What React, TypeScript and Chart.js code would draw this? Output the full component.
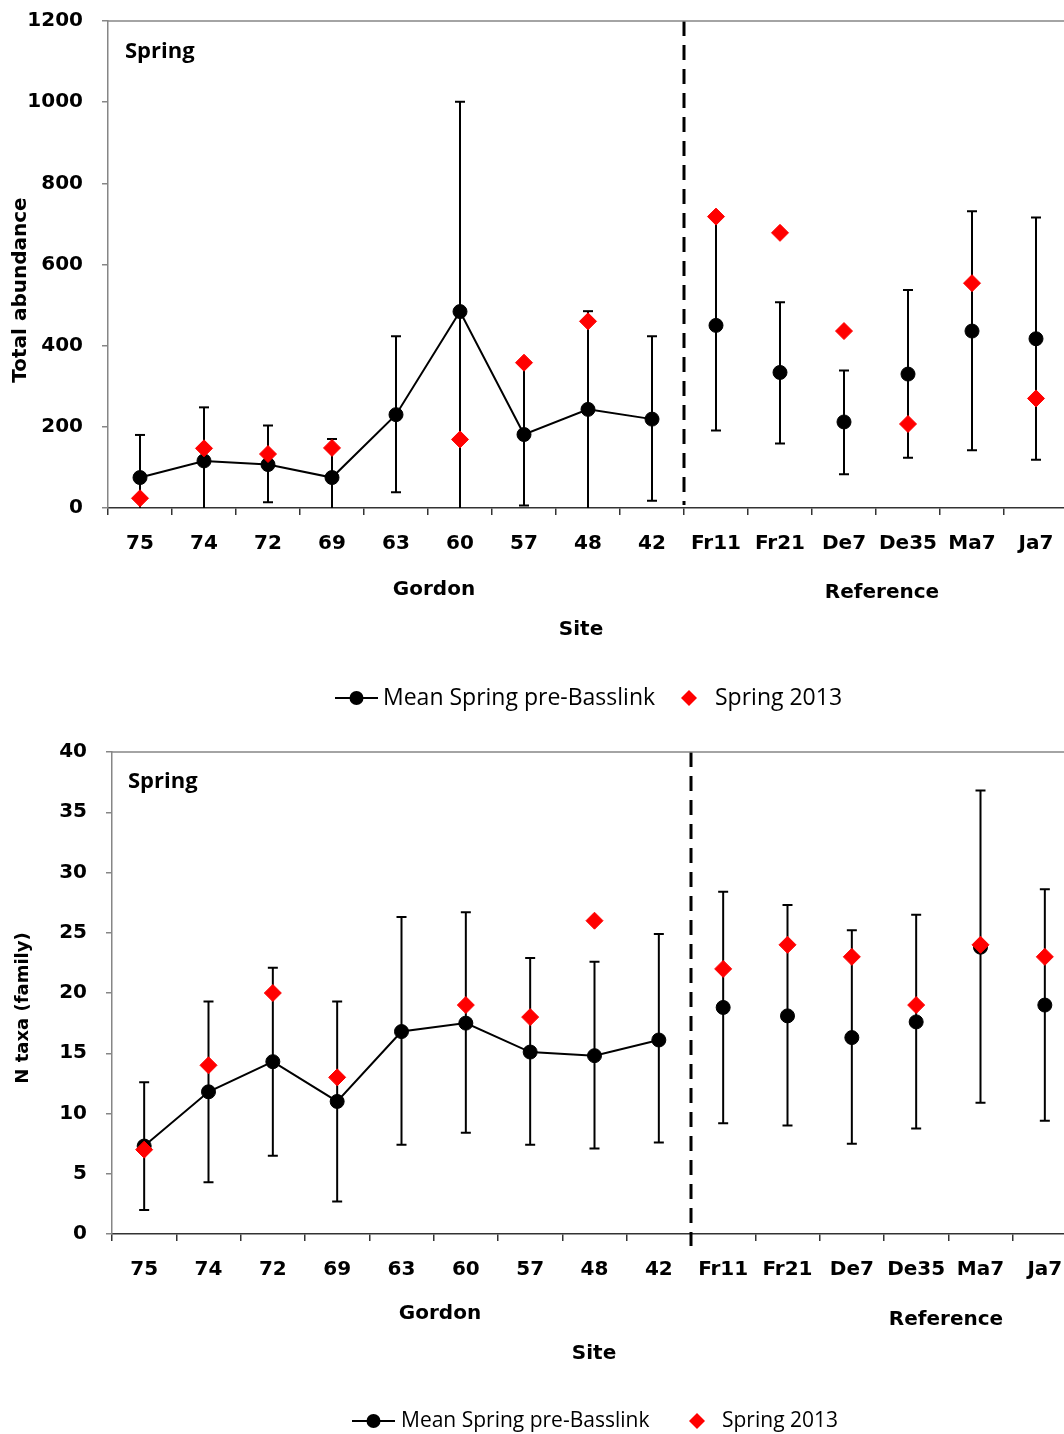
import React, { useEffect, useRef } from 'react';
import { Chart, registerables } from 'chart.js';

Chart.register(...registerables);

// ---------- data ----------
const sites = ['75', '74', '72', '69', '63', '60', '57', '48', '42', 'Fr11', 'Fr21', 'De7', 'De35', 'Ma7', 'Ja7'];

const abundanceMean = [75, 116, 107, 75, 230, 484, 181, 243, 219, 450, 334, 212, 330, 436, 417];
const abundanceLow = [0, 0, 14, 0, 39, 0, 6, 0, 18, 191, 159, 83, 124, 142, 119];
const abundanceHigh = [180, 248, 203, 170, 423, 1001, 357, 485, 423, 715, 507, 339, 537, 731, 716];
const abundance2013 = [24, 147, 133, 148, null, 169, 358, 460, null, 718, 678, 436, 207, 554, 270];

const taxaMean = [7.3, 11.8, 14.3, 11.0, 16.8, 17.5, 15.1, 14.8, 16.1, 18.8, 18.1, 16.3, 17.6, 23.8, 19.0];
const taxaLow = [2.0, 4.3, 6.5, 2.7, 7.4, 8.4, 7.4, 7.1, 7.6, 9.2, 9.0, 7.5, 8.75, 10.9, 9.4];
const taxaHigh = [12.6, 19.3, 22.1, 19.3, 26.3, 26.7, 22.9, 22.6, 24.9, 28.4, 27.3, 25.2, 26.5, 36.8, 28.6];
const taxa2013 = [7, 14, 20, 13, null, 19, 18, 26, null, 22, 24, 23, 19, 24, 23];

const gordonCount = 9;
const meanLabel = 'Mean Spring pre-Basslink';
const label2013 = 'Spring 2013';

type PanelSpec = {
  width: number;
  height: number;
  offsetY: number;
  area: { left: number; top: number; right: number; bottom: number };
  yMax: number;
  yStep: number;
  yTitle: string;
  yTitleFont: string;
  yTitlePos: [number, number];
  mean: number[];
  low: number[];
  high: number[];
  s2013: (number | null)[];
  springPos: [number, number];
  gordonPos: [number, number];
  referencePos: [number, number];
  sitePos: [number, number];
  legend: { lineX1: number; lineX2: number; textX: number; diamondX: number; text2X: number; y: number; font: string };
  dashExtend: number;
};

const FONT_BOLD = 'bold 20px "DejaVu Sans"';

function buildChart(canvas: HTMLCanvasElement, p: PanelSpec) {
  const overlay = {
    id: 'overlay',
    beforeDatasetsDraw(chart: any) {
      const ctx = chart.ctx;
      const x = chart.scales.x;
      const y = chart.scales.y;
      ctx.save();
      ctx.strokeStyle = '#000';
      ctx.lineWidth = 2;
      for (let i = 0; i < p.mean.length; i++) {
        const px = x.getPixelForValue(i);
        const yl = y.getPixelForValue(p.low[i]);
        const yh = y.getPixelForValue(p.high[i]);
        ctx.beginPath();
        ctx.moveTo(px, yl);
        ctx.lineTo(px, yh);
        ctx.stroke();
        ctx.beginPath();
        ctx.moveTo(px - 5, yh);
        ctx.lineTo(px + 5, yh);
        if (p.low[i] > 0) {
          ctx.moveTo(px - 5, yl);
          ctx.lineTo(px + 5, yl);
        }
        ctx.stroke();
      }
      // dashed separator
      const sx = (x.getPixelForValue(gordonCount - 1) + x.getPixelForValue(gordonCount)) / 2;
      ctx.setLineDash([15, 9]);
      ctx.lineWidth = 3;
      ctx.beginPath();
      ctx.moveTo(sx, chart.chartArea.top);
      ctx.lineTo(sx, chart.chartArea.bottom + p.dashExtend);
      ctx.stroke();
      ctx.restore();
    },
    afterDraw(chart: any) {
      const ctx = chart.ctx;
      const ca = chart.chartArea;
      ctx.save();
      // top border
      ctx.strokeStyle = '#868686';
      ctx.lineWidth = 1.5;
      ctx.beginPath();
      ctx.moveTo(ca.left, ca.top);
      ctx.lineTo(ca.right, ca.top);
      ctx.stroke();

      ctx.fillStyle = '#000';
      ctx.textBaseline = 'middle';
      // Spring
      ctx.font = 'bold 22px "Open Sans"';
      ctx.textAlign = 'left';
      ctx.fillText('Spring', p.springPos[0], p.springPos[1]);
      // group labels
      ctx.font = FONT_BOLD;
      ctx.textAlign = 'center';
      ctx.fillText('Gordon', p.gordonPos[0], p.gordonPos[1]);
      ctx.fillText('Reference', p.referencePos[0], p.referencePos[1]);
      ctx.fillText('Site', p.sitePos[0], p.sitePos[1]);
      // y title
      ctx.save();
      ctx.translate(p.yTitlePos[0], p.yTitlePos[1]);
      ctx.rotate(-Math.PI / 2);
      ctx.font = p.yTitleFont;
      ctx.fillText(p.yTitle, 0, 0);
      ctx.restore();

      // legend
      const L = p.legend;
      ctx.strokeStyle = '#000';
      ctx.lineWidth = 2;
      ctx.beginPath();
      ctx.moveTo(L.lineX1, L.y);
      ctx.lineTo(L.lineX2, L.y);
      ctx.stroke();
      ctx.beginPath();
      ctx.arc((L.lineX1 + L.lineX2) / 2, L.y, 7, 0, Math.PI * 2);
      ctx.fill();
      ctx.font = L.font;
      ctx.textAlign = 'left';
      ctx.fillText(meanLabel, L.textX, L.y);
      ctx.fillStyle = '#ff0000';
      ctx.beginPath();
      ctx.moveTo(L.diamondX - 8, L.y);
      ctx.lineTo(L.diamondX, L.y - 8);
      ctx.lineTo(L.diamondX + 8, L.y);
      ctx.lineTo(L.diamondX, L.y + 8);
      ctx.closePath();
      ctx.fill();
      ctx.fillStyle = '#000';
      ctx.fillText(label2013, L.text2X, L.y);
      ctx.restore();
    },
  };

  return new Chart(canvas, {
    type: 'line',
    data: {
      labels: sites,
      datasets: [
        {
          label: label2013,
          data: p.s2013 as any,
          showLine: false,
          pointStyle: 'rectRot',
          pointRadius: 8.5,
          pointBackgroundColor: '#ff0000',
          pointBorderColor: '#ff0000',
          pointBorderWidth: 1,
          order: 0,
        },
        {
          label: meanLabel,
          data: p.mean,
          borderColor: '#000',
          borderWidth: 2,
          pointStyle: 'circle',
          pointRadius: 7,
          pointBackgroundColor: '#000',
          pointBorderColor: '#000',
          pointBorderWidth: 1,
          segment: {
            borderColor: (c: any) => (c.p0DataIndex >= gordonCount - 1 ? 'rgba(0,0,0,0)' : '#000'),
          },
          order: 1,
        },
      ],
    },
    options: {
      responsive: false,
      animation: false,
      layout: {
        padding: { left: 0, top: p.area.top, right: p.width - p.area.right, bottom: 0 },
      },
      plugins: { legend: { display: false }, tooltip: { enabled: false } },
      scales: {
        x: {
          type: 'category',
          offset: true,
          grid: { display: true, offset: true, drawOnChartArea: false, drawTicks: true, tickLength: 7, color: '#333', lineWidth: 1.5 },
          border: { display: true, color: '#333', width: 1.5 },
          ticks: { color: '#000', font: { family: 'DejaVu Sans', size: 20, weight: 'bold' }, padding: 17, maxRotation: 0, autoSkip: false },
          afterFit: (s: any) => {
            s.height = p.height - p.area.bottom;
          },
        },
        y: {
          min: 0,
          max: p.yMax,
          grid: { display: true, drawOnChartArea: false, drawTicks: true, tickLength: 6, color: '#868686', lineWidth: 1.5 },
          border: { display: true, color: '#868686', width: 1.5 },
          ticks: {
            stepSize: p.yStep,
            color: '#000',
            font: { family: 'DejaVu Sans', size: 20, weight: 'bold' },
            padding: 19,
            callback: (v: any) => String(v),
          },
          afterFit: (s: any) => {
            s.width = p.area.left;
          },
        },
      },
    },
    plugins: [overlay],
  } as any);
}

const topSpec: PanelSpec = {
  width: 1100,
  height: 730,
  offsetY: -10,
  area: { left: 108, top: 30, right: 1068, bottom: 518 },
  yMax: 1200,
  yStep: 200,
  yTitle: 'Total abundance',
  yTitleFont: 'bold 20px "DejaVu Sans"',
  yTitlePos: [21, 300],
  mean: abundanceMean,
  low: abundanceLow,
  high: abundanceHigh,
  s2013: abundance2013,
  springPos: [125, 62],
  gordonPos: [434, 600],
  referencePos: [882, 603],
  sitePos: [581, 640],
  legend: { lineX1: 335, lineX2: 378, textX: 383, diamondX: 689, text2X: 715, y: 708, font: '23px "Open Sans"' },
  dashExtend: -3,
};

const bottomSpec: PanelSpec = {
  width: 1100,
  height: 714,
  offsetY: 0,
  area: { left: 112, top: 32, right: 1077, bottom: 514 },
  yMax: 40,
  yStep: 5,
  yTitle: 'N taxa (family)',
  yTitleFont: 'bold 18px "DejaVu Sans"',
  yTitlePos: [23, 288],
  mean: taxaMean,
  low: taxaLow,
  high: taxaHigh,
  s2013: taxa2013,
  springPos: [128, 62],
  gordonPos: [440, 594],
  referencePos: [946, 600],
  sitePos: [594, 634],
  legend: { lineX1: 352, lineX2: 395, textX: 401, diamondX: 697, text2X: 722, y: 701, font: '21px "Open Sans"' },
  dashExtend: 12,
};

function Panel({ spec }: { spec: PanelSpec }) {
  const ref = useRef<HTMLCanvasElement | null>(null);
  useEffect(() => {
    if (!ref.current) return;
    const chart = buildChart(ref.current, spec);
    return () => chart.destroy();
  }, [spec]);
  return (
    <canvas
      ref={ref}
      width={spec.width}
      height={spec.height}
      style={{ display: 'block', width: spec.width + 'px', height: spec.height + 'px', marginTop: spec.offsetY + 'px' }}
    />
  );
}

export default function App() {
  return (
    <div
      style={{
        position: 'absolute',
        left: 0,
        top: 0,
        width: '1064px',
        height: '1434px',
        overflow: 'hidden',
        background: '#fff',
      }}
    >
      <Panel spec={topSpec} />
      <Panel spec={bottomSpec} />
    </div>
  );
}
